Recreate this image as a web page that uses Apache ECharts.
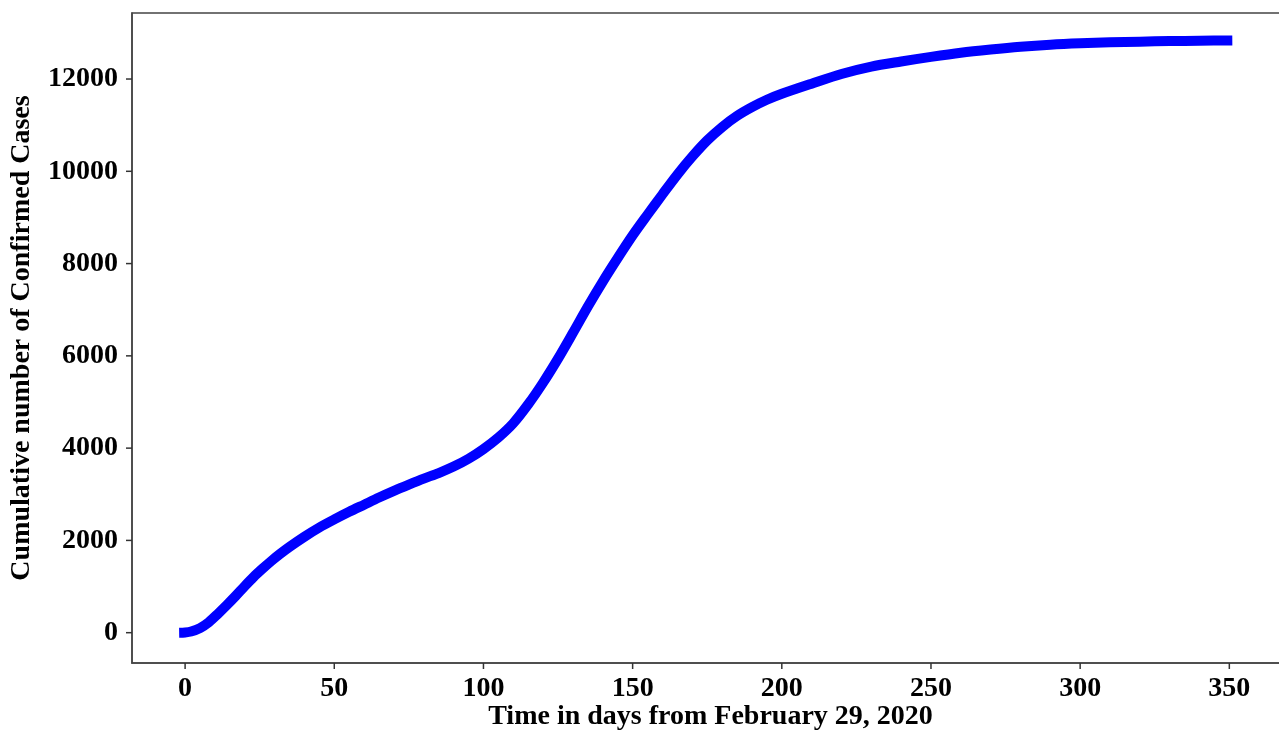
<!DOCTYPE html>
<html>
<head>
<meta charset="utf-8">
<script src="https://cdn.jsdelivr.net/npm/echarts@6/dist/echarts.min.js"></script>
<style>
html,body{margin:0;padding:0;background:#fff;}
#chart{width:1279px;height:731px;}
</style>
</head>
<body>
<div id="chart"></div>
<script>
const days = [-2, 0, 2, 5, 8, 11, 14, 17, 20, 23, 26, 29, 32, 35, 40, 45, 50, 55, 60, 65, 70, 75, 80, 85, 90, 95, 100, 105, 110, 115, 120, 125, 130, 135, 140, 145, 150, 155, 160, 165, 170, 175, 180, 185, 190, 195, 200, 210, 220, 230, 240, 250, 260, 270, 280, 290, 300, 310, 320, 330, 340, 351];
const cases = [0, 5, 25, 100, 230, 410, 600, 800, 1010, 1210, 1390, 1560, 1715, 1860, 2080, 2280, 2455, 2620, 2775, 2930, 3075, 3210, 3340, 3460, 3600, 3770, 3980, 4230, 4540, 4950, 5420, 5940, 6500, 7070, 7610, 8120, 8610, 9060, 9500, 9930, 10320, 10670, 10960, 11200, 11390, 11550, 11680, 11900, 12110, 12270, 12380, 12480, 12570, 12640, 12700, 12745, 12775, 12795, 12810, 12822, 12830, 12835];
const xTicks = [0, 50, 100, 150, 200, 250, 300, 350];
const yTicks = [0, 2000, 4000, 6000, 8000, 10000, 12000];
const xTitle = 'Time in days from February 29, 2020';
const yTitle = 'Cumulative number of Confirmed Cases';

const xMin = -17.8, xMax = 370, yMin = -657, yMax = 13431;
const font = '"Liberation Serif", "Times New Roman", serif';
const axisCol = '#444';
const tickCol = '#333';
const tickLen = 6;

function tickSeries(values, isX) {
  return {
    type: 'custom', silent: true, clip: false, z: 10,
    data: values.map(v => isX ? [v, yMin] : [xMin, v]),
    renderItem: function (params, api) {
      const p = api.coord([api.value(0), api.value(1)]);
      const shape = isX
        ? {x1: p[0], y1: p[1], x2: p[0], y2: p[1] + tickLen}
        : {x1: p[0], y1: p[1], x2: p[0] - tickLen, y2: p[1]};
      return {type: 'line', shape: shape, style: {stroke: tickCol, lineWidth: 1.5}};
    }
  };
}

const chart = echarts.init(document.getElementById('chart'), null, {renderer: 'canvas'});
chart.setOption({
  animation: false,
  backgroundColor: '#fff',
  grid: {left: 132, top: 13, width: 1157, height: 650, show: true, borderColor: axisCol, borderWidth: 1.5, backgroundColor: 'transparent', containLabel: false, outerBoundsMode: 'none'},
  xAxis: {
    type: 'value', min: xMin, max: xMax,
    name: xTitle, nameLocation: 'middle', nameGap: 40, nameMoveOverlap: false,
    nameTextStyle: {fontFamily: font, fontWeight: 'bold', fontSize: 28, color: '#000', verticalAlign: 'top'},
    axisLine: {show: true, onZero: false, lineStyle: {color: axisCol, width: 1.5}},
    axisTick: {show: false},
    axisLabel: {customValues: xTicks, formatter: v => String(v), fontFamily: font, fontWeight: 'bold', fontSize: 28, color: '#000', margin: 12},
    splitLine: {show: false}
  },
  yAxis: {
    type: 'value', min: yMin, max: yMax,
    name: yTitle, nameLocation: 'middle', nameGap: 96, nameMoveOverlap: false,
    nameTextStyle: {fontFamily: font, fontWeight: 'bold', fontSize: 28, color: '#000'},
    axisLine: {show: true, onZero: false, lineStyle: {color: axisCol, width: 1.5}},
    axisTick: {show: false},
    axisLabel: {customValues: yTicks, formatter: v => String(v), fontFamily: font, fontWeight: 'bold', fontSize: 28, color: '#000', margin: 14},
    splitLine: {show: false}
  },
  series: [
    {
      type: 'line',
      data: days.map((d, i) => [d, cases[i]]),
      showSymbol: false,
      smooth: 0.3,
      lineStyle: {color: '#0000ff', width: 10, cap: 'butt'},
      clip: true,
      z: 3
    },
    tickSeries(xTicks, true),
    tickSeries(yTicks, false)
  ]
});
</script>
</body>
</html>
